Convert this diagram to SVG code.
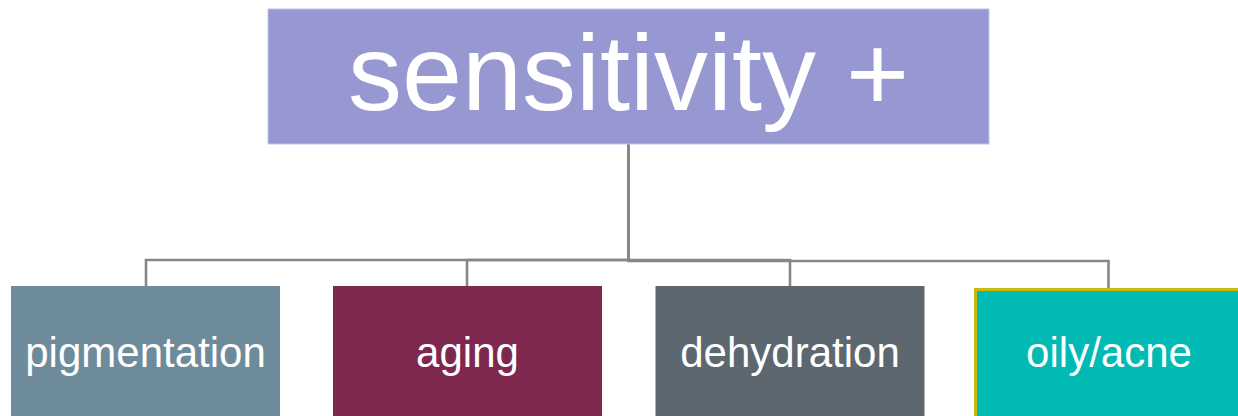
<svg xmlns="http://www.w3.org/2000/svg" width="1238" height="416" viewBox="0 0 1238 416">
<style>
.lbl{font-family:"Liberation Sans",Arial,sans-serif;fill:#ffffff;text-anchor:middle}
.conn{fill:none;stroke:#878787;stroke-width:2.6}
</style>
<rect width="1238" height="416" fill="#ffffff"/>
<g id="connectors">
<path class="conn" d="M628.5,144 V260 H146 V286"/>
<path class="conn" d="M628.5,144 V260 H467 V286"/>
<path class="conn" d="M628.5,144 V260 H790 V286"/>
<path class="conn" d="M628.5,144 V261 H1108.5 V288"/>
</g>
<g id="node-root">
<rect x="268" y="9" width="721" height="135" fill="#9797d1" stroke="#c4c4e6" stroke-width="1"/>
<text class="lbl" x="628.5" y="110" font-size="108">sensitivity +</text>
</g>
<g id="node-pigmentation">
<rect x="11" y="286" width="269" height="132" fill="#6e8b9b"/>
<text class="lbl" x="145.5" y="367" font-size="42">pigmentation</text>
</g>
<g id="node-aging">
<rect x="333" y="286" width="269" height="132" fill="#7e274f"/>
<text class="lbl" x="467.5" y="367" font-size="42">aging</text>
</g>
<g id="node-dehydration">
<rect x="655.5" y="286" width="269" height="132" fill="#5c6770"/>
<text class="lbl" x="790" y="367" font-size="42">dehydration</text>
</g>
<g id="node-oily">
<rect x="975.5" y="289.5" width="270" height="130" fill="#00bab3" stroke="#c9bb0a" stroke-width="3"/>
<text class="lbl" x="1109" y="367" font-size="42">oily/acne</text>
</g>
</svg>
